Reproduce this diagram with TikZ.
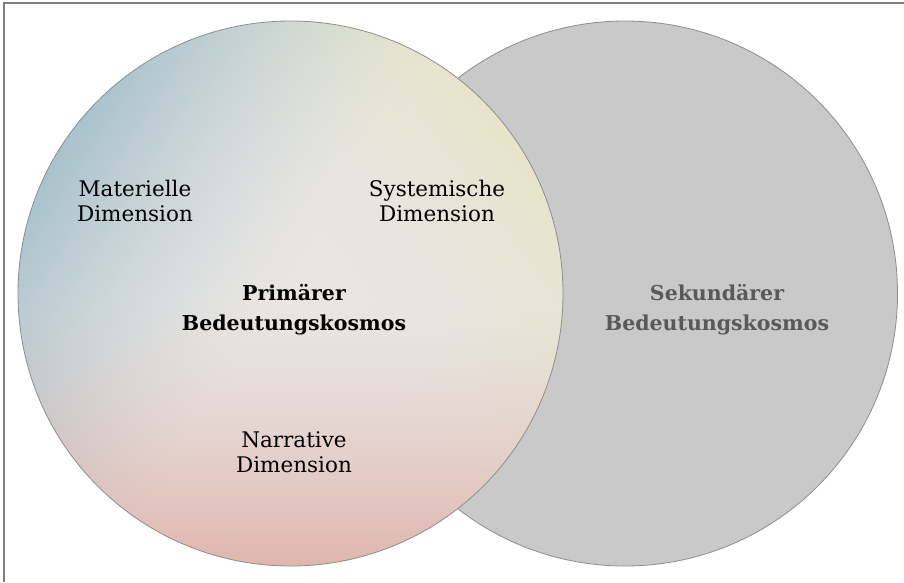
\documentclass[tikz,border=0pt]{standalone}
\usepackage{fontspec}
\setmainfont{DejaVu Serif}

\definecolor{framegray}{HTML}{808080}
\definecolor{edgegray}{HTML}{8E8E8E}
\definecolor{secgray}{HTML}{C9C9C9}
\definecolor{sectext}{HTML}{595959}

% Soft three-way blend: blue to the upper left, pale yellow to the upper right,
% rose towards the bottom, light grey in the middle.
\pgfdeclarefunctionalshading{kosmos}{\pgfpointorigin}{\pgfpoint{100bp}{100bp}}{}{
  50 sub 25 div exch 50 sub 25 div exch
  1 index -0.85 mul 1 index 0.53 mul add dup 0 lt {pop 0} if dup sqrt mul
  2 index 0.8 mul 2 index 0.6 mul add dup 0 lt {pop 0} if dup mul
  2 index neg dup 0 lt {pop 0} if dup sqrt mul
  5 -2 roll pop pop
  3 copy -0.03 mul exch -0.01 mul add exch -0.25 mul add 0.91 add
  4 1 roll
  3 copy -0.19 mul exch 0.0 mul add exch -0.14 mul add 0.90 add
  4 1 roll
  -0.21 mul exch -0.10 mul add exch -0.09 mul add 0.89 add
}

\begin{document}
\begin{tikzpicture}[x=1pt,y=-1pt,
  ring/.style={circle, minimum size=545pt, inner sep=0pt, outer sep=0pt,
    draw=edgegray, line width=0.8pt},
  dimlabel/.style={align=center, inner sep=0pt, text=black,
    font=\fontsize{21.5}{25}\selectfont},
  cosmoslabel/.style={align=center, inner sep=0pt,
    font=\bfseries\fontsize{20.5}{30}\selectfont}]

\useasboundingbox (0,0) rectangle (904,582);
\fill[white] (0,0) rectangle (904,582);

% frame along the top and left edge
\coordinate (fbl) at (4,582);
\coordinate (ftl) at (4,3);
\coordinate (ftr) at (904,3);
\draw[framegray, line width=1.5pt] (fbl) -- (ftl) -- (ftr);

% the two circles
\node[ring, fill=secgray] (sek) at (625,293.5) {};
\node[ring, shading=kosmos] (prim) at (290.5,293.5) {};

% labels
\node[dimlabel] (mat) at (135,201) {Materielle\\Dimension};
\node[dimlabel] (sys) at (437,201) {Systemische\\Dimension};
\node[dimlabel] (nar) at (294,452) {Narrative\\Dimension};
\node[cosmoslabel, text=black] (primtxt) at (294,310) {Primärer\\Bedeutungskosmos};
\node[cosmoslabel, text=sectext] (sektxt) at (717,310) {Sekundärer\\Bedeutungskosmos};
\end{tikzpicture}
\end{document}
